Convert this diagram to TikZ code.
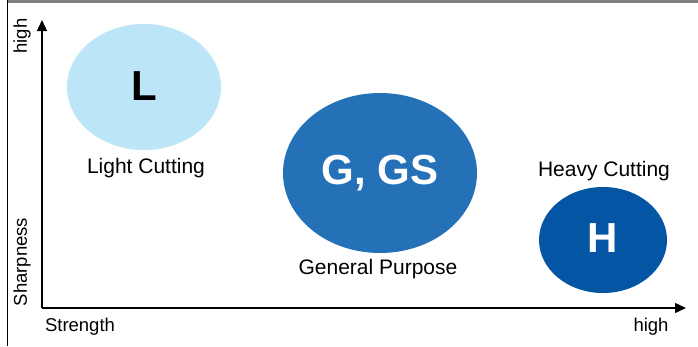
\documentclass[tikz,border=0pt]{standalone}
\usepackage{fontspec}
\setmainfont{Liberation Sans}
\usetikzlibrary{arrows.meta}
\definecolor{lightC}{RGB}{189,229,248}
\definecolor{genC}{RGB}{36,113,184}
\definecolor{heavyC}{RGB}{4,85,164}
\definecolor{frameC}{RGB}{128,128,128}
\tikzset{
  blob/.style={ellipse, inner sep=0pt},
  bigletter/.style={font=\fontsize{42}{42}\selectfont\bfseries},
  catlabel/.style={font=\fontsize{21}{22}\selectfont, inner sep=0pt},
  axlabel/.style={font=\fontsize{18.5}{20}\selectfont, inner sep=0pt},
  axis/.style={line width=1.3pt, -{Triangle[length=11pt,width=10pt]}},
}
\begin{document}
\begin{tikzpicture}[x=1pt,y=-1pt]
\useasboundingbox (0,0) rectangle (698,346);
\fill[white] (0,0) rectangle (698,346);
% frame
\draw[frameC, line width=2.2pt] (7,1.5) -- (698,1.5);
\draw[black, line width=1.3pt] (7.5,0) -- (7.5,346);
% axes
\coordinate (O) at (42,308);
\coordinate (ytip) at (42,20);
\coordinate (xtip) at (686,308);
\draw[axis] (O) -- (ytip);
\draw[axis] (O) -- (xtip);
% ellipses
\fill[lightC] (144,87) ellipse [x radius=77, y radius=63];
\node[bigletter, text=black] (L) at (144,86) {L};
\fill[genC] (380,173) ellipse [x radius=97, y radius=80];
\node[bigletter, text=white] (G) at (380,173) {G, GS};
\fill[heavyC] (603,240) ellipse [x radius=64, y radius=53];
\node[bigletter, text=white] (H) at (603,238) {H};
% labels
\node[catlabel] (lc) at (146,168) {Light Cutting};
\node[catlabel] (gp) at (378,269) {General Purpose};
\node[catlabel] (hc) at (604,171) {Heavy Cutting};
\node[axlabel, rotate=90] (yhigh) at (22,36) {high};
\node[axlabel, rotate=90] (sharp) at (22,262) {Sharpness};
\node[axlabel] (str) at (80,327) {Strength};
\node[axlabel] (xhigh) at (651,327) {high};
\end{tikzpicture}
\end{document}
